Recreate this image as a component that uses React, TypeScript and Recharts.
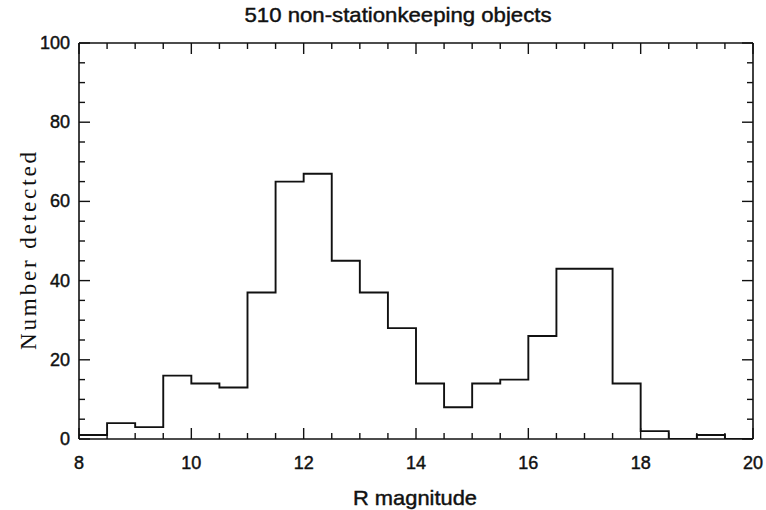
import React from "react";
import { LineChart, Line, XAxis, YAxis } from "recharts";

// histogram bins (lower edges, width 0.5 mag) and counts
const binEdges = [
  8, 8.5, 9, 9.5, 10, 10.5, 11, 11.5, 12, 12.5, 13, 13.5, 14, 14.5, 15, 15.5,
  16, 16.5, 17, 17.5, 18, 18.5, 19, 19.5, 20,
];
const counts = [
  1, 4, 3, 16, 14, 13, 37, 65, 67, 45, 37, 28, 14, 8, 14, 15, 26, 43, 43, 14,
  2, 0, 1, 0, 0,
];

const xTicks = [
  8, 8.5, 9, 9.5, 10, 10.5, 11, 11.5, 12, 12.5, 13, 13.5, 14, 14.5, 15, 15.5,
  16, 16.5, 17, 17.5, 18, 18.5, 19, 19.5, 20,
];
const yTicks = [0, 5, 10, 15, 20, 25, 30, 35, 40, 45, 50, 55, 60, 65, 70, 75, 80, 85, 90, 95, 100];

const data = binEdges.map((x, i) => ({ mag: x, n: counts[i] }));

const INK = "#111";
const SANS = "'Liberation Sans', Arial, Helvetica, sans-serif";
const MAJOR = 11;
const MINOR = 6;
// the scanned labels are a touch heavier than regular weight
const heavy = { stroke: INK, strokeWidth: 0.45 };

// bottom axis: ticks point up into the plot, labels on even magnitudes
const BottomTick = (props: any) => {
  const { x, y, payload } = props;
  const v = payload.value;
  const major = v % 2 === 0;
  return (
    <g>
      <line x1={x} y1={y} x2={x} y2={y - (major ? MAJOR : MINOR)} stroke={INK} strokeWidth={1.4} />
      {major && (
        <text x={x} y={y + 30} textAnchor="middle" fontSize={18} fontFamily={SANS} fill={INK} {...heavy}>
          {v}
        </text>
      )}
    </g>
  );
};

const TopTick = (props: any) => {
  const { x, y, payload } = props;
  const major = payload.value % 2 === 0;
  return <line x1={x} y1={y} x2={x} y2={y + (major ? MAJOR : MINOR)} stroke={INK} strokeWidth={1.4} />;
};

const LeftTick = (props: any) => {
  const { x, y, payload } = props;
  const v = payload.value;
  const major = v % 20 === 0;
  return (
    <g>
      <line x1={x} y1={y} x2={x + (major ? MAJOR : MINOR)} y2={y} stroke={INK} strokeWidth={1.4} />
      {major && (
        <text x={x - 9} y={y + 6} textAnchor="end" fontSize={18} fontFamily={SANS} fill={INK} {...heavy}>
          {v}
        </text>
      )}
    </g>
  );
};

const RightTick = (props: any) => {
  const { x, y, payload } = props;
  const major = payload.value % 20 === 0;
  return <line x1={x} y1={y} x2={x - (major ? MAJOR : MINOR)} y2={y} stroke={INK} strokeWidth={1.4} />;
};

export default function App() {
  return (
    <div style={{ position: "absolute", left: 0, top: 0, width: 766, height: 510, background: "#fff" }}>
      <LineChart width={766} height={510} data={data} margin={{ top: 42, right: 12, bottom: 70, left: 78 }}>
        <XAxis
          xAxisId="b"
          dataKey="mag"
          type="number"
          domain={[8, 20]}
          ticks={xTicks}
          interval={0}
          height={1}
          tickSize={0}
          tickMargin={0}
          tickLine={false}
          axisLine={{ stroke: INK, strokeWidth: 1.6 }}
          tick={<BottomTick />}
          allowDataOverflow
        />
        <XAxis
          xAxisId="t"
          orientation="top"
          dataKey="mag"
          type="number"
          domain={[8, 20]}
          ticks={xTicks}
          interval={0}
          height={1}
          tickSize={0}
          tickMargin={0}
          tickLine={false}
          axisLine={{ stroke: INK, strokeWidth: 1.6 }}
          tick={<TopTick />}
          allowDataOverflow
        />
        <YAxis
          yAxisId="l"
          type="number"
          domain={[0, 100]}
          ticks={yTicks}
          interval={0}
          width={1}
          tickSize={0}
          tickMargin={0}
          tickLine={false}
          axisLine={{ stroke: INK, strokeWidth: 1.6 }}
          tick={<LeftTick />}
          allowDataOverflow
        />
        <YAxis
          yAxisId="r"
          orientation="right"
          type="number"
          domain={[0, 100]}
          ticks={yTicks}
          interval={0}
          width={1}
          tickSize={0}
          tickMargin={0}
          tickLine={false}
          axisLine={{ stroke: INK, strokeWidth: 1.6 }}
          tick={<RightTick />}
          allowDataOverflow
        />
        {/* invisible series so the top/right axes have something bound to them */}
        <Line xAxisId="t" yAxisId="r" dataKey="n" stroke="none" dot={false} isAnimationActive={false} />
        <Line
          xAxisId="b"
          yAxisId="l"
          dataKey="n"
          type="stepAfter"
          stroke={INK}
          strokeWidth={1.9}
          dot={false}
          isAnimationActive={false}
        />
        <text x={398} y={22} textAnchor="middle" fontSize={21} fontFamily={SANS} fill={INK} textLength={307} lengthAdjust="spacingAndGlyphs" {...heavy}>
          510 non-stationkeeping objects
        </text>
        <text x={415} y={505} textAnchor="middle" fontSize={21} fontFamily={SANS} fill={INK} textLength={124} lengthAdjust="spacingAndGlyphs" {...heavy}>
          R magnitude
        </text>
        <text
          x={36}
          y={251}
          textAnchor="middle"
          fontSize={23}
          fontFamily="'Liberation Serif', 'Times New Roman', serif"
          fill={INK}
          textLength={198}
          lengthAdjust="spacing"
          transform="rotate(-90 36 251)"
        >
          Number detected
        </text>
      </LineChart>
    </div>
  );
}
